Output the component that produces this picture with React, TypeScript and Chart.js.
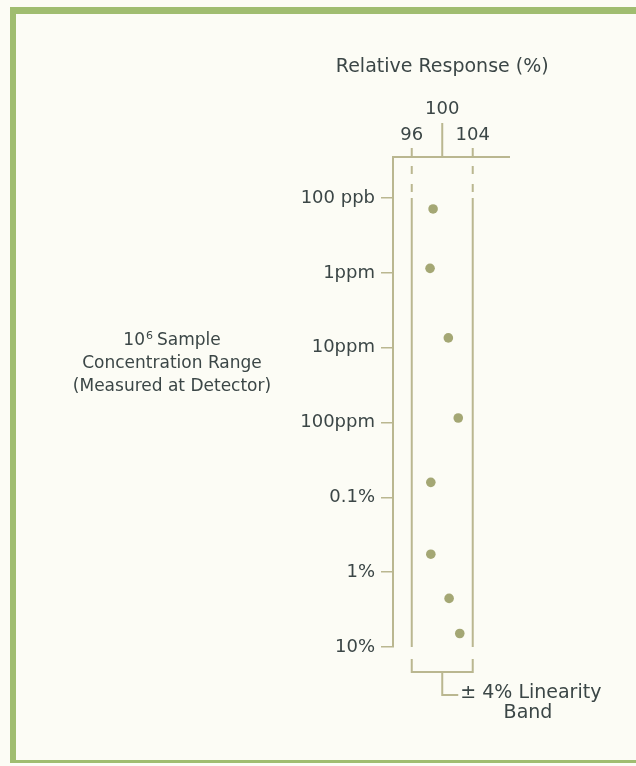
import React, { useEffect, useRef } from 'react';
import { Chart, registerables } from 'chart.js';

Chart.register(...registerables);

const concentrationLabels = ['100 ppb', '1ppm', '10ppm', '100ppm', '0.1%', '1%', '10%'];
const concentrationPpm = [0.1, 1, 10, 100, 1000, 10000, 100000];
const sampleConcentrationPpm = [0.14, 0.87, 7.4, 87, 630, 5750, 22400, 66000];
const relativeResponse = [98.8, 98.4, 100.8, 102.1, 98.5, 98.5, 100.9, 102.3];
const responseTicks = [96, 100, 104];
const bandLimits = [96, 104];
const titleText = 'Relative Response (%)';
const sideLabel = ['Sample', 'Concentration Range', '(Measured at Detector)'];
const bandLabel = ['± 4% Linearity', 'Band'];

const TEXT = '#3b4646';
const AXIS = '#bab790';
const POINT = '#a4a774';
const FRAME = '#a0bd70';
const BG = '#fcfcf5';
const FAMILY = '"DejaVu Sans", Verdana, sans-serif';
const TICK_FONT = `18px ${FAMILY}`;
const LABEL_FONT = `17px ${FAMILY}`;
const TITLE_FONT = `19px ${FAMILY}`;

const decorPlugin = {
  id: 'decor',
  afterDraw(chart: any) {
    const { ctx, chartArea: a, scales } = chart;
    const xs = scales.x;
    const ys = scales.y;
    const line = (x1: number, y1: number, x2: number, y2: number) => {
      ctx.beginPath();
      ctx.moveTo(x1, y1);
      ctx.lineTo(x2, y2);
      ctx.stroke();
    };
    ctx.save();
    ctx.strokeStyle = AXIS;
    ctx.lineWidth = 2;
    ctx.lineCap = 'butt';
    // top response axis
    line(a.left, a.top, a.right, a.top);
    responseTicks.forEach((v) => {
      const px = xs.getPixelForValue(v);
      line(px, a.top, px, a.top - (v === 100 ? 34 : 9));
    });
    // band limits
    const yFirst = ys.getPixelForValue(concentrationPpm[0]);
    bandLimits.forEach((v) => {
      const px = xs.getPixelForValue(v);
      ctx.setLineDash([8, 10]);
      line(px, a.top + 9, px, yFirst - 5);
      ctx.setLineDash([]);
      line(px, yFirst, px, a.bottom);
    });
    // bracket below
    const bx1 = xs.getPixelForValue(bandLimits[0]);
    const bx2 = xs.getPixelForValue(bandLimits[1]);
    const bTop = a.bottom + 12;
    const bBot = a.bottom + 25;
    ctx.beginPath();
    ctx.moveTo(bx1, bTop);
    ctx.lineTo(bx1, bBot);
    ctx.lineTo(bx2, bBot);
    ctx.lineTo(bx2, bTop);
    ctx.stroke();
    const mx = xs.getPixelForValue(100);
    ctx.beginPath();
    ctx.moveTo(mx, bBot);
    ctx.lineTo(mx, a.bottom + 48);
    ctx.lineTo(mx + 16, a.bottom + 48);
    ctx.stroke();

    // texts
    ctx.fillStyle = TEXT;
    ctx.textBaseline = 'middle';
    ctx.textAlign = 'center';
    ctx.font = TICK_FONT;
    responseTicks.forEach((v) => {
      const px = xs.getPixelForValue(v);
      ctx.fillText(String(v), px, v === 100 ? a.top - 48 : a.top - 22);
    });
    ctx.font = TITLE_FONT;
    ctx.fillText(titleText, mx, a.top - 90);

    // side label
    const cx = 172;
    ctx.font = LABEL_FONT;
    const sw = ctx.measureText(sideLabel[0]).width;
    const w10 = ctx.measureText('10').width;
    ctx.font = `11px ${FAMILY}`;
    const w6 = ctx.measureText('6').width;
    const gap = 5;
    const total = w10 + w6 + gap + sw;
    const sx = cx - total / 2;
    ctx.textAlign = 'left';
    ctx.font = LABEL_FONT;
    ctx.fillText('10', sx, 341);
    ctx.font = `11px ${FAMILY}`;
    ctx.fillText('6', sx + w10 + 1, 336);
    ctx.font = LABEL_FONT;
    ctx.fillText(sideLabel[0], sx + w10 + w6 + gap, 341);
    ctx.textAlign = 'center';
    ctx.fillText(sideLabel[1], cx, 364);
    ctx.fillText(sideLabel[2], cx, 387);

    // band label
    ctx.font = TITLE_FONT;
    ctx.textAlign = 'left';
    ctx.fillText(bandLabel[0], mx + 18, a.bottom + 46);
    ctx.textAlign = 'center';
    ctx.fillText(bandLabel[1], 528, a.bottom + 66);
    ctx.restore();
  },
};

export default function App() {
  const canvasRef = useRef<HTMLCanvasElement | null>(null);

  useEffect(() => {
    const canvas = canvasRef.current;
    if (!canvas) return;
    const chart = new Chart(canvas, {
      type: 'scatter',
      data: {
        datasets: [
          {
            data: relativeResponse.map((r, i) => ({ x: r, y: sampleConcentrationPpm[i] })),
            backgroundColor: POINT,
            borderWidth: 0,
            pointRadius: 4.8,
          },
        ],
      },
      options: {
        responsive: false,
        animation: false,
        events: [],
        layout: { padding: { left: 0, top: 157, right: 126, bottom: 119 } },
        plugins: { legend: { display: false }, tooltip: { enabled: false } },
        scales: {
          x: { type: 'linear', display: false, min: 93.54, max: 108.89 },
          y: {
            type: 'logarithmic',
            reverse: true,
            min: 0.0283,
            max: 100000,
            afterBuildTicks: (scale: any) => {
              scale.ticks = concentrationPpm.map((v) => ({ value: v }));
            },
            afterFit: (scale: any) => {
              scale.width = 393;
            },
            border: { display: true, color: AXIS, width: 2 },
            grid: {
              drawOnChartArea: false,
              drawTicks: true,
              tickLength: 12,
              color: AXIS,
              lineWidth: 1.5,
            },
            ticks: {
              color: TEXT,
              font: { family: FAMILY, size: 18 },
              padding: 6,
              autoSkip: false,
              callback: (_v: any, i: number) => concentrationLabels[i],
            },
          },
        },
      },
      plugins: [decorPlugin],
    });
    return () => chart.destroy();
  }, []);

  return (
    <div style={{ position: 'fixed', left: 0, top: 0, width: 636, height: 766, background: BG, overflow: 'hidden' }}>
      <div
        style={{
          position: 'absolute',
          left: 10,
          top: 7,
          width: 640,
          height: 756,
          borderLeft: `6px solid ${FRAME}`,
          borderTop: `7px solid ${FRAME}`,
          borderBottom: `3px solid ${FRAME}`,
          boxSizing: 'border-box',
        }}
      />
      <canvas ref={canvasRef} width={636} height={766} style={{ position: 'absolute', left: 0, top: 0 }} />
    </div>
  );
}
